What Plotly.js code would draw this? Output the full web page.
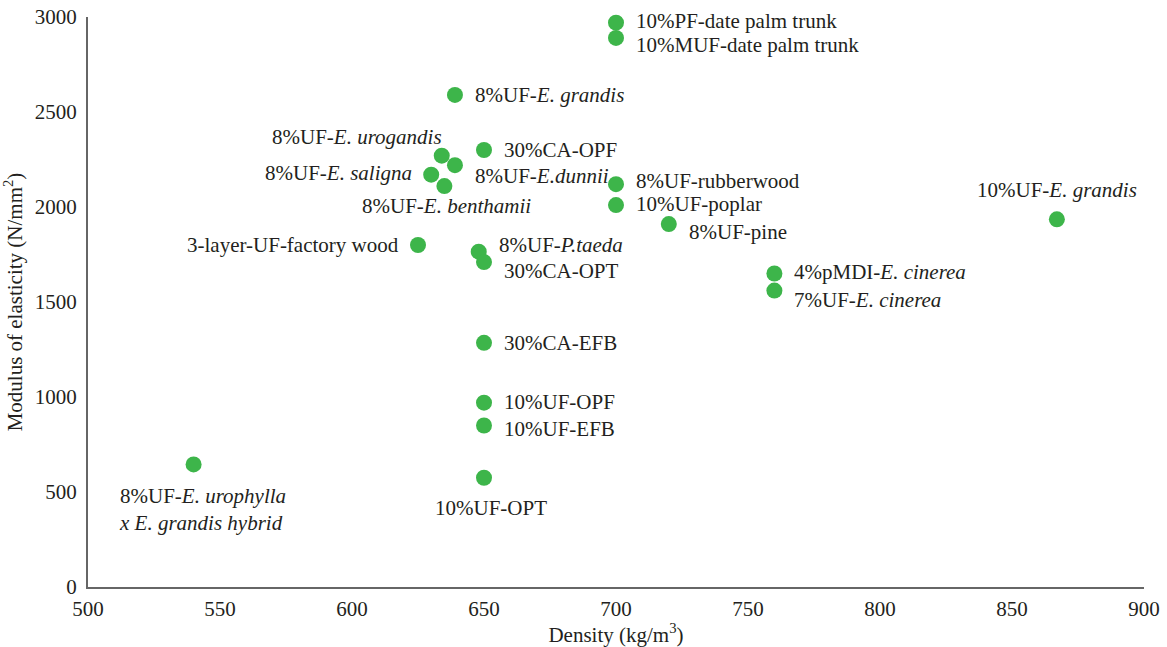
<!DOCTYPE html>
<html>
<head>
<meta charset="utf-8">
<script src="https://cdn.plot.ly/plotly-3.0.1.min.js"></script>
<style>html,body{margin:0;padding:0;background:#fff;}#chart{width:1167px;height:647px;}</style>
</head>
<body>
<div id="chart"></div>
<script>
const density = [700, 700, 639, 634, 650, 630, 639, 635, 700, 700, 720, 867, 625, 648, 650, 760, 760, 650, 650, 650, 650, 540];
const moe = [2970, 2890, 2590, 2270, 2300, 2170, 2220, 2110, 2120, 2010, 1910, 1935, 1800, 1765, 1710, 1650, 1560, 1285, 970, 850, 575, 645];
const labels = [
  "10%PF-date palm trunk",
  "10%MUF-date palm trunk",
  "8%UF-<i>E. grandis</i>",
  "8%UF-<i>E. urogandis</i>",
  "30%CA-OPF",
  "8%UF-<i>E. saligna</i>",
  "8%UF-<i>E.dunnii</i>",
  "8%UF-<i>E. benthamii</i>",
  "8%UF-rubberwood",
  "10%UF-poplar",
  "8%UF-pine",
  "10%UF-<i>E. grandis</i>",
  "3-layer-UF-factory wood",
  "8%UF-<i>P.taeda</i>",
  "30%CA-OPT",
  "4%pMDI-<i>E. cinerea</i>",
  "7%UF-<i>E. cinerea</i>",
  "30%CA-EFB",
  "10%UF-OPF",
  "10%UF-EFB",
  "10%UF-OPT",
  "8%UF-<i>E. urophylla</i><br><i>x E. grandis hybrid</i>"
];
const xTicks = [500, 550, 600, 650, 700, 750, 800, 850, 900];
const yTicks = [0, 500, 1000, 1500, 2000, 2500, 3000];

// label placement: [xanchor, xshift, yshift]
const place = [
  ['left',18,2], ['left',18,-7], ['left',18,0], ['right',2,19],
  ['left',18,0], ['right',-17,2], ['left',18,-11], ['center',2,-20],
  ['left',18,3], ['left',18,1], ['left',18,-8], ['center',0,29],
  ['right',-17,0], ['left',18,7], ['left',18,-9], ['left',18,2],
  ['left',18,-9], ['left',18,0], ['left',18,1], ['left',18,-3],
  ['center',7,-30], ['left',-77,-45]
];

const FONT = "'Liberation Serif', 'Times New Roman', serif";
const FS = 21;
const annotations = labels.map((t, i) => ({
  x: density[i], y: moe[i], xref: 'x', yref: 'y', text: t, showarrow: false,
  xanchor: place[i][0], yanchor: 'middle', xshift: place[i][1], yshift: place[i][2],
  align: 'left', font: {family: FONT, size: FS, color: '#231f20'}
}));

const trace = {
  x: density, y: moe, type: 'scatter', mode: 'markers',
  marker: {size: 16, color: '#3db54a'}, hoverinfo: 'skip', cliponaxis: false
};

const layout = {
  width: 1167, height: 647,
  margin: {l: 88, r: 23, t: 17, b: 60},
  paper_bgcolor: '#fff', plot_bgcolor: '#fff',
  showlegend: false,
  font: {family: FONT, size: FS, color: '#231f20'},
  xaxis: {
    range: [500, 900], tickvals: xTicks, ticktext: xTicks.map(String),
    showgrid: false, zeroline: false, showline: true, linecolor: '#666', linewidth: 2,
    ticks: '', ticklabelstandoff: 2,
    tickfont: {family: FONT, size: FS, color: '#231f20'},
    title: {text: 'Density (kg/m<sup>3</sup>)', font: {family: FONT, size: FS, color: '#231f20'}, standoff: 4}
  },
  yaxis: {
    range: [0, 3000], tickvals: yTicks, ticktext: yTicks.map(String),
    showgrid: false, zeroline: false, showline: true, linecolor: '#666', linewidth: 2,
    ticks: '', ticklabelstandoff: 5,
    tickfont: {family: FONT, size: FS, color: '#231f20'},
    title: {text: 'Modulus of elasticity (N/mm<sup>2</sup>)', font: {family: FONT, size: FS, color: '#231f20'}, standoff: 8}
  },
  annotations: annotations
};

Plotly.newPlot('chart', [trace], layout, {displayModeBar: false, staticPlot: true});
</script>
</body>
</html>
